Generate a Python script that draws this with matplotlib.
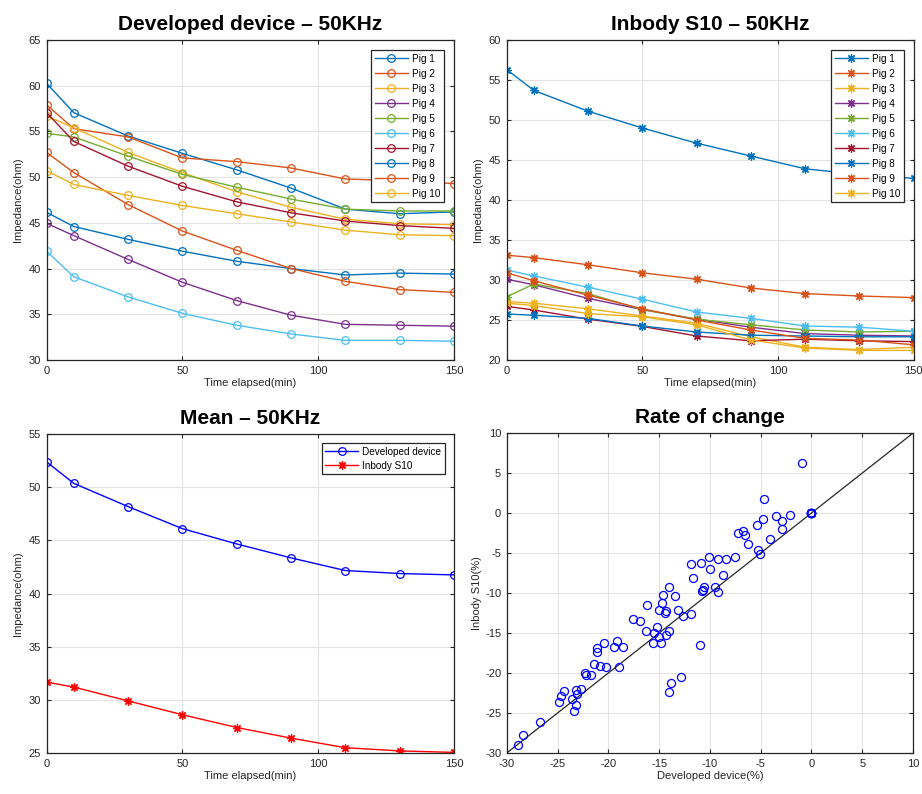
import numpy as np
import matplotlib
matplotlib.use("Agg")
import matplotlib.pyplot as plt

# ---------------- data ----------------
time = [0, 10, 30, 50, 70, 90, 110, 130, 150]
pig_labels = [f"Pig {i}" for i in range(1, 11)]

dev_pig1 = [60.25, 57.05, 54.5, 52.6, 50.8, 48.8, 46.5, 46.0, 46.2]
dev_pig2 = [57.9, 55.3, 54.4, 52.1, 51.7, 51.0, 49.8, 49.6, 49.3]
dev_pig3 = [56.7, 55.4, 52.7, 50.5, 48.4, 46.7, 45.4, 44.9, 44.8]
dev_pig4 = [44.95, 43.6, 41.0, 38.5, 36.5, 34.9, 33.9, 33.8, 33.7]
dev_pig5 = [54.8, 54.4, 52.3, 50.3, 48.9, 47.6, 46.5, 46.3, 46.3]
dev_pig6 = [41.9, 39.1, 36.9, 35.1, 33.8, 32.85, 32.15, 32.15, 32.05]
dev_pig7 = [57.05, 53.9, 51.2, 49.0, 47.3, 46.1, 45.2, 44.7, 44.4]
dev_pig8 = [46.15, 44.6, 43.2, 41.9, 40.8, 40.0, 39.3, 39.5, 39.4]
dev_pig9 = [52.7, 50.5, 47.0, 44.1, 42.0, 40.0, 38.6, 37.7, 37.4]
dev_pig10 = [50.7, 49.2, 48.0, 46.9, 46.0, 45.1, 44.2, 43.7, 43.6]

inb_pig1 = [56.3, 53.7, 51.1, 49.0, 47.1, 45.5, 43.9, 43.2, 42.7]
inb_pig2 = [33.1, 32.8, 31.9, 30.9, 30.1, 29.0, 28.3, 28.0, 27.8]
inb_pig3 = [27.3, 27.1, 26.4, 25.5, 24.6, 22.9, 21.6, 21.3, 21.6]
inb_pig4 = [30.1, 29.4, 27.7, 26.3, 25.1, 24.1, 23.3, 23.1, 23.0]
inb_pig5 = [27.9, 29.5, 28.3, 26.3, 25.1, 24.4, 23.75, 23.5, 23.6]
inb_pig6 = [31.25, 30.5, 29.1, 27.6, 26.0, 25.2, 24.25, 24.1, 23.6]
inb_pig7 = [26.7, 26.25, 25.1, 24.2, 23.0, 22.4, 22.6, 22.4, 22.3]
inb_pig8 = [25.75, 25.6, 25.2, 24.25, 23.5, 23.1, 23.0, 22.9, 22.9]
inb_pig9 = [30.9, 29.9, 28.1, 26.4, 25.0, 23.75, 22.7, 22.5, 21.9]
inb_pig10 = [27.1, 26.8, 25.8, 25.4, 24.4, 22.5, 21.5, 21.2, 21.2]

mean_dev = [52.37, 50.36, 48.17, 46.1, 44.66, 43.35, 42.16, 41.88, 41.75]
mean_inb = [31.67, 31.2, 29.9, 28.6, 27.4, 26.4, 25.5, 25.2, 25.06]

rate_dev = [-0.9, -4.7, -3.5, -2.1, -2.9, -4.8, -5.4, -2.9, -6.7, -7.2,
            -6.5, -4.1, -6.2, -5.3, -5.1, -10.1, -7.5, -9.2, -8.4, -10.9,
            -11.9, -10.0, -8.7, -11.7, -14.0, -10.6, -10.7, -9.5, -9.2, -10.8,
            -14.6, -13.4, -14.7, -16.2, -15.0, -14.3, -14.4, -13.1, -11.9, -12.6,
            -17.6, -16.9, -15.2, -16.3, -14.0, -15.5, -14.3, -15.0, -15.6, -14.8,
            -11.0, -20.4, -19.1, -19.4, -18.6, -21.1, -21.1, -21.4, -20.8, -20.2,
            -18.9, -22.3, -22.2, -21.7, -12.8, -13.8, -14.0, -24.4, -23.2, -22.7,
            -23.1, -24.7, -23.6, -24.9, -23.2, -23.4, -26.7, -28.4, -28.9,
            0, 0, 0, 0, 0, 0, 0, 0, 0, 0]
rate_inb = [6.2, 1.8, -0.4, -0.3, -1.0, -0.8, -1.5, -2.0, -2.2, -2.5,
            -2.7, -3.2, -3.9, -4.6, -5.1, -5.5, -5.5, -5.8, -5.7, -6.3,
            -6.4, -7.0, -7.8, -8.1, -9.3, -9.3, -9.6, -9.3, -9.9, -9.7,
            -10.3, -10.4, -11.2, -11.5, -12.1, -12.2, -12.5, -12.1, -12.6, -12.9,
            -13.2, -13.5, -14.3, -14.8, -14.7, -15.0, -15.3, -15.5, -16.3, -16.3,
            -16.5, -16.2, -16.0, -16.7, -16.7, -16.9, -17.4, -18.9, -19.1, -19.3,
            -19.2, -20.0, -20.2, -20.3, -20.5, -21.3, -22.4, -22.2, -22.1, -22.0,
            -22.6, -22.9, -23.3, -23.6, -24.0, -24.7, -26.1, -27.8, -29.0,
            0, 0, 0, 0, 0, 0, 0, 0, 0, 0]

dev_series = [dev_pig1, dev_pig2, dev_pig3, dev_pig4, dev_pig5,
              dev_pig6, dev_pig7, dev_pig8, dev_pig9, dev_pig10]
inb_series = [inb_pig1, inb_pig2, inb_pig3, inb_pig4, inb_pig5,
              inb_pig6, inb_pig7, inb_pig8, inb_pig9, inb_pig10]

colors = ["#0072BD", "#D95319", "#EDB120", "#7E2F8E", "#77AC30",
          "#4DBEEE", "#A2142F", "#0072BD", "#D95319", "#EDB120"]

# ---------------- style ----------------
plt.rcParams['font.family'] = ['Liberation Sans', 'DejaVu Sans']
plt.rcParams['axes.unicode_minus'] = False
TICK_COLOR = "#262626"
AST = (8, 2, 0)

fig = plt.figure(figsize=(9.22, 7.94), dpi=100)
ax1 = fig.add_axes([0.0506, 0.5466, 0.4418, 0.403])
ax2 = fig.add_axes([0.5496, 0.5466, 0.4414, 0.403])
ax3 = fig.add_axes([0.0506, 0.0516, 0.4418, 0.4018])
ax4 = fig.add_axes([0.5496, 0.0516, 0.4407, 0.403])


def style(ax):
    ax.grid(True, color="#e3e3e3", linewidth=0.8)
    ax.set_axisbelow(True)
    ax.tick_params(direction="in", top=True, right=True, labelsize=8,
                   colors=TICK_COLOR, length=3, width=0.8, pad=4)
    for s in ax.spines.values():
        s.set_color("#262626")
        s.set_linewidth(0.9)


def add_legend(ax, pad=1.0, spacing=0.5):
    leg = ax.legend(loc="upper right", fontsize=7.2, fancybox=False, framealpha=1,
                    edgecolor="#262626", handlelength=3.3, borderpad=0.35,
                    labelspacing=spacing, borderaxespad=pad, handletextpad=0.4)
    leg.get_frame().set_linewidth(0.9)
    return leg


title_kw = dict(fontsize=15, fontweight="bold",
                family=["Liberation Sans", "DejaVu Sans"], pad=7)
label_kw = dict(fontsize=8, color=TICK_COLOR)

# Developed device
for y, c, lab in zip(dev_series, colors, pig_labels):
    ax1.plot(time, y, "-", color=c, marker="o", mfc="none", ms=5.5, mew=0.9,
             lw=1.0, label=lab)
ax1.set_xlim(0, 150)
ax1.set_ylim(30, 65)
ax1.set_xticks([0, 50, 100, 150])
ax1.set_yticks(range(30, 66, 5))
ax1.set_title("Developed device – 50KHz", **title_kw)
ax1.set_xlabel("Time elapsed(min)", labelpad=2, **label_kw)
ax1.set_ylabel("Impedance(ohm)", labelpad=4, **label_kw)
style(ax1)
add_legend(ax1)

# Inbody S10
for y, c, lab in zip(inb_series, colors, pig_labels):
    ax2.plot(time, y, "-", color=c, marker=AST, ms=6, mew=0.9,
             lw=1.0, label=lab)
ax2.set_xlim(0, 150)
ax2.set_ylim(20, 60)
ax2.set_xticks([0, 50, 100, 150])
ax2.set_yticks(range(20, 61, 5))
ax2.set_title("Inbody S10 – 50KHz", **title_kw)
ax2.set_xlabel("Time elapsed(min)", labelpad=2, **label_kw)
ax2.set_ylabel("Impedance(ohm)", labelpad=4, **label_kw)
style(ax2)
add_legend(ax2)

# Mean
ax3.plot(time, mean_dev, "-", color="#0000FF", marker="o", mfc="none", ms=5.5,
         mew=0.9, lw=1.0, label="Developed device")
ax3.plot(time, mean_inb, "-", color="#FF0000", marker=AST, ms=6, mew=0.9,
         lw=1.0, label="Inbody S10")
ax3.set_xlim(0, 150)
ax3.set_ylim(25, 55)
ax3.set_xticks([0, 50, 100, 150])
ax3.set_yticks(range(25, 56, 5))
ax3.set_title("Mean – 50KHz", **title_kw)
ax3.set_xlabel("Time elapsed(min)", labelpad=2, **label_kw)
ax3.set_ylabel("Impedance(ohm)", labelpad=4, **label_kw)
style(ax3)
add_legend(ax3, pad=0.9, spacing=0.4)

# Rate of change
ax4.plot([-30, 10], [-30, 10], "-", color="#262626", lw=0.9)
ax4.plot(rate_dev, rate_inb, "o", mfc="none", mec="#0000FF", ms=5.8, mew=0.9,
         linestyle="none")
ax4.set_xlim(-30, 10)
ax4.set_ylim(-30, 10)
ax4.set_xticks(range(-30, 11, 5))
ax4.set_yticks(range(-30, 11, 5))
ax4.set_title("Rate of change", **title_kw)
ax4.set_xlabel("Developed device(%)", labelpad=2, **label_kw)
ax4.set_ylabel("Inbody S10(%)", labelpad=2, **label_kw)
style(ax4)

fig.savefig("out.png", dpi=100)
